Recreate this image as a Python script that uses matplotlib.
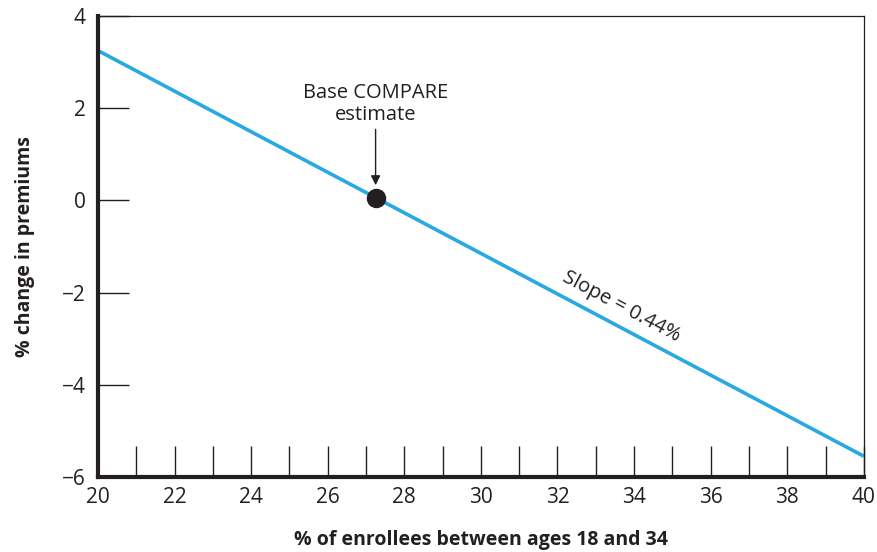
import numpy as np
import matplotlib.pyplot as plt
from matplotlib.ticker import MultipleLocator

plt.rcParams['font.family'] = ['Open Sans', 'DejaVu Sans']

# donnees
x_line = [20, 40]
y_line = [3.25, -5.55]
base_x = 27.25
base_y = 0.05
slope_label = 'Slope = 0.44%'
xticks = [20, 22, 24, 26, 28, 30, 32, 34, 36, 38, 40]
yticks = [-6, -4, -2, 0, 2, 4]

ink = '#231f20'

fig = plt.figure(figsize=(8.77, 5.52), dpi=100)
ax = fig.add_axes([0.1117, 0.1359, 0.8733, 0.8351])

ax.set_xlim(20, 40)
ax.set_ylim(-6, 4)

ax.plot(x_line, y_line, color='#29a9e0', lw=2.6, solid_capstyle='butt', zorder=2)
ax.plot([base_x], [base_y], 'o', color=ink, ms=13, zorder=3)

ax.annotate('Base COMPARE\nestimate', xy=(base_x, 0.33), xytext=(base_x, 1.63),
            ha='center', va='bottom', fontsize=14.5, color=ink, linespacing=1.15,
            arrowprops=dict(arrowstyle='-|>', color=ink, lw=1, mutation_scale=14,
                            shrinkA=1, shrinkB=0))

# angle de la droite a l'ecran
p0 = ax.transData.transform((x_line[0], y_line[0]))
p1 = ax.transData.transform((x_line[1], y_line[1]))
ang = np.degrees(np.arctan2(p1[1] - p0[1], p1[0] - p0[0]))
ax.text(33.66, -2.3, slope_label, rotation=ang, rotation_mode='anchor',
        ha='center', va='center', fontsize=14.5, color=ink)

ax.set_xticks(xticks)
ax.xaxis.set_minor_locator(MultipleLocator(1))
ax.set_yticks(yticks)

for s in ['top', 'right']:
    ax.spines[s].set_linewidth(0.9)
    ax.spines[s].set_color(ink)
for s in ['left', 'bottom']:
    ax.spines[s].set_linewidth(3)
    ax.spines[s].set_color(ink)

ax.tick_params(axis='x', which='both', direction='in', length=22, width=1,
               color=ink, labelcolor=ink, labelsize=15, pad=7)
ax.tick_params(axis='y', which='major', direction='in', length=22, width=1,
               color=ink, labelcolor=ink, labelsize=15, pad=9)

ax.set_xlabel('% of enrollees between ages 18 and 34', fontsize=14, fontweight='bold',
              labelpad=16, color=ink)
ax.set_ylabel('% change in premiums', fontsize=14, fontweight='bold', labelpad=19,
              color=ink)

fig.savefig('out.png', dpi=100)
